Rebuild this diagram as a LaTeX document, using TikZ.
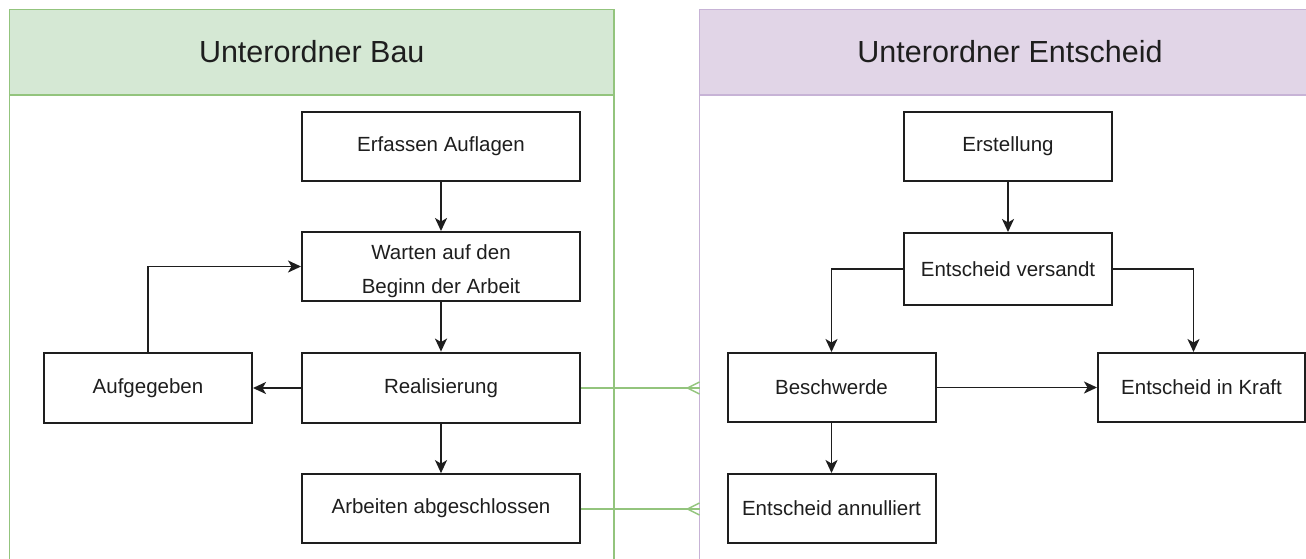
\documentclass[tikz,border=0pt]{standalone}
\usepackage{fontspec}
\setmainfont{Liberation Sans}
\usetikzlibrary{arrows.meta}
\definecolor{gfill}{HTML}{D5E8D4}
\definecolor{gline}{HTML}{93C47D}
\definecolor{pfill}{HTML}{E1D5E7}
\definecolor{pline}{HTML}{C7B3D6}
\definecolor{ink}{HTML}{1E1E1E}
\tikzset{
  hdr/.style={font=\fontsize{30.5}{36}\selectfont, text=ink, inner sep=0},
  box/.style={draw=ink, line width=2pt, fill=white, inner sep=0, minimum height=69,
    font=\fontsize{20.5}{24}\selectfont, text=ink, align=center},
  wide/.style={box, minimum width=278},
  narrow/.style={box, minimum width=208},
  txt/.style={font=\fontsize{20.5}{34}\selectfont, text=ink, align=center, inner sep=0},
  arr/.style={draw=ink, line width=1.9pt, -{Stealth[length=13pt,width=12pt,inset=3.5pt]}},
  rel/.style={draw=gline, line width=1.4pt},
}
\begin{document}
\begin{tikzpicture}[x=1pt,y=-1pt]
\useasboundingbox (0,0) rectangle (1306,558);
\begin{scope}
\clip (0,0) rectangle (1306,558);
% containers
\draw[draw=gline, fill=white, line width=1.4pt] (9.5,9.5) rectangle (614,620);
\draw[draw=gline, fill=gfill, line width=1.4pt] (9.5,9.5) rectangle (614,95);
\node[hdr] (hb) at (311.75,52) {Unterordner Bau};
\draw[draw=pline, fill=white, line width=1.4pt] (699.5,9.5) rectangle (1321,620);
\draw[draw=pline, fill=pfill, line width=1.4pt] (699.5,9.5) rectangle (1321,95);
\node[hdr] (he) at (1010,52) {Unterordner Entscheid};

% left nodes
\node[wide] (erf) at (441,146.5) {Erfassen Auflagen};
\node[wide] (war) at (441,266.5) {};
\node[txt] (wart) at (441,271) {Warten auf den\\Beginn der Arbeit};
\node[wide, line width=2.8pt, minimum height=70] (rea) at (441,388) {Realisierung};
\node[narrow, minimum height=70] (auf) at (148,388) {Aufgegeben};
\node[wide, line width=1.7pt] (arb) at (441,508.5) {Arbeiten abgeschlossen};

% right nodes
\node[narrow] (ers) at (1008,146.5) {Erstellung};
\node[narrow, minimum height=72] (ver) at (1008,269) {Entscheid versandt};
\node[narrow] (bes) at (831.5,387.5) {Beschwerde};
\node[box, minimum width=207] (kra) at (1201.5,387.5) {Entscheid in Kraft};
\node[narrow] (ann) at (831.5,508.5) {Entscheid annulliert};

% left edges
\draw[arr] (erf) -- (war);
\draw[arr] (war) -- (rea);
\draw[arr] (rea) -- (auf);
\draw[arr] (auf.north) |- (war.west);
\draw[arr] (rea) -- (arb);

% right edges
\draw[arr] (ers) -- (ver);
\draw[arr] (ver.west) -| (bes.north);
\draw[arr] (ver.east) -| ([xshift=-8pt]kra.north);
\draw[arr] (bes) -- (kra);
\draw[arr] (bes) -- (ann);

% relations with crow's foot ends
\coordinate (c1) at (699.5,388);
\coordinate (c2) at (699.5,509);
\draw[rel] (rea.east) -- (c1);
\draw[rel] ([xshift=-12pt]c1) -- ([yshift=6pt]c1);
\draw[rel] ([xshift=-12pt]c1) -- ([yshift=-6pt]c1);
\draw[rel] (arb.east |- c2) -- (c2);
\draw[rel] ([xshift=-12pt]c2) -- ([yshift=6pt]c2);
\draw[rel] ([xshift=-12pt]c2) -- ([yshift=-6pt]c2);
\end{scope}
\end{tikzpicture}
\end{document}
